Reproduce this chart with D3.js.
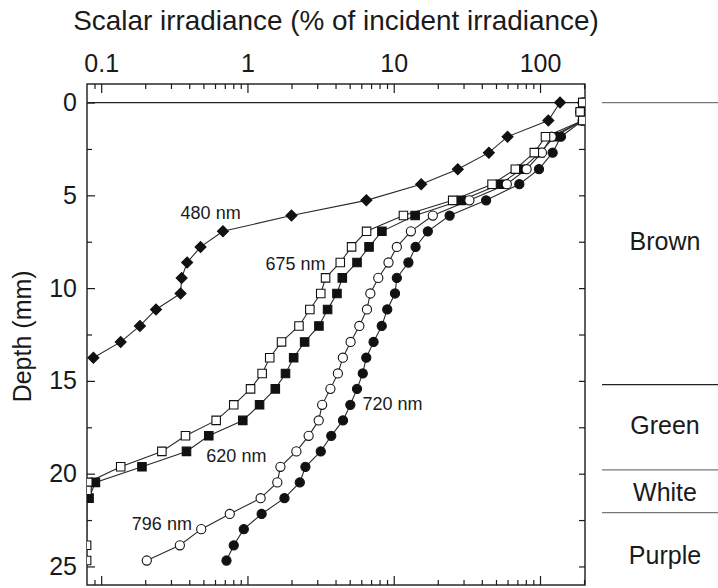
<!DOCTYPE html>
<html>
<head>
<meta charset="utf-8">
<script src="https://cdn.jsdelivr.net/npm/d3@7"></script>
<style>
  body { margin: 0; background: #fff; }
  svg { display: block; font-family: "Liberation Sans", Arial, sans-serif; }
  .axis text { font-size: 25px; fill: #1a1a1a; }
  .axis line { stroke: #1a1a1a; stroke-width: 1.2; }
  .lbl { font-size: 18px; fill: #1a1a1a; }
</style>
</head>
<body>
<svg id="chart" width="718" height="588"></svg>
<script>
// depth (mm), scalar irradiance (% of incident)
const s480 = [[0,137],[0.97,114],[1.84,60],[2.70,44.7],[3.59,27.4],[4.40,15.4],[5.27,6.5],[6.09,2.0],
  [6.94,0.68],[7.78,0.478],[8.62,0.387],[9.45,0.355],[10.29,0.349],[11.15,0.237],[12.04,0.184],
  [12.90,0.136],[13.75,0.0885]];
const s675 = [[0,196],[0.5,188],[0.97,196],[1.84,109],[2.70,91.4],[3.59,67.8],[4.40,47.0],[5.27,25.3],
  [6.09,11.65],[6.94,6.52],[7.78,5.15],[8.62,4.31],[9.45,3.42],[10.29,3.17],[11.15,2.67],[12.04,2.25],
  [12.90,1.71],[13.75,1.42],[14.60,1.26],[15.43,1.05],[16.29,0.806],[17.13,0.611],[17.96,0.377],
  [18.80,0.260],[19.63,0.136],[20.47,0.081],[20.9,0.080],[23.86,0.0795],[24.68,0.0795]];
const s620 = [[0,196],[0.97,196],[1.84,126],[2.70,100],[3.59,75],[4.40,53.3],[5.27,29],[6.09,14.0],
  [6.94,8.3],[7.78,6.78],[8.62,5.61],[9.45,4.45],[10.29,4.09],[11.15,3.53],[12.04,3.08],[12.90,2.46],
  [13.75,2.07],[14.60,1.82],[15.43,1.55],[16.29,1.21],[17.13,0.929],[17.96,0.544],[18.80,0.383],
  [19.63,0.190],[20.47,0.0913],[21.32,0.0826]];
const s796 = [[0,196],[0.5,188],[0.97,196],[1.84,120],[2.70,103],[3.59,81],[4.40,59.3],[5.27,32.9],
  [6.09,18.5],[6.94,13.1],[7.78,10.5],[8.62,9.21],[9.45,7.84],[10.29,6.92],[11.15,6.56],[12.04,5.82],
  [12.90,5.07],[13.75,4.49],[14.60,4.15],[15.43,3.69],[16.29,3.24],[17.13,3.07],[17.96,2.62],
  [18.80,2.16],[19.63,1.68],[20.47,1.60],[21.32,1.23],[22.17,0.757],[22.99,0.483],[23.86,0.345],
  [24.68,0.205]];
const s720 = [[0,196],[0.97,196],[1.84,139],[2.70,122],[3.59,98.4],[4.40,72.2],[5.27,42.8],[6.09,24.1],
  [6.94,17.1],[7.78,14.1],[8.62,12.6],[9.45,10.5],[10.29,10.2],[11.15,9.03],[12.04,8.28],[12.90,7.28],
  [13.75,6.49],[14.60,6.14],[15.43,5.61],[16.29,5.05],[17.13,4.50],[17.96,3.74],[18.80,3.17],
  [19.63,2.49],[20.47,2.28],[21.32,1.79],[22.17,1.25],[22.99,0.944],[23.86,0.806],[24.68,0.719]];

const xMajor = [0.1, 1, 10, 100];
const xMinor = [0.09, 0.2, 0.3, 0.4, 0.5, 0.6, 0.7, 0.8, 0.9, 2, 3, 4, 5, 6, 7, 8, 9,
  20, 30, 40, 50, 60, 70, 80, 90, 200];
const yMajor = [0, 5, 10, 15, 20, 25];
const yMinor = [2.5, 7.5, 12.5, 17.5, 22.5];

// mat layers on the right
const layerLines = [0, 15.2, 19.8, 22.1];
const layerNames = ["Brown", "Green", "White", "Purple"];
const layerLabelDepth = [7.5, 17.4, 21.0, 24.4];

// curve labels: text, irradiance and depth of the label centre
const curveLabels = [
  {text: "480 nm", v: 0.56, d: 5.95},
  {text: "675 nm", v: 2.13, d: 8.7},
  {text: "620 nm", v: 0.84, d: 19.04},
  {text: "796 nm", v: 0.26, d: 22.7},
  {text: "720 nm", v: 9.8, d: 16.24},
];

(() => {
  const svg = d3.select("svg#chart");
  const left = 87, right = 585, top = 84, bottom = 585;

  const x = d3.scaleLog().domain([0.08, 203]).range([left, right]);
  const y = d3.scaleLinear().domain([-1, 26]).range([top, bottom]);

  // title
  svg.append("text")
    .attr("x", 336).attr("y", 30)
    .attr("text-anchor", "middle")
    .style("font-size", "27.9px").style("fill", "#1a1a1a")
    .text("Scalar irradiance (% of incident irradiance)");

  svg.append("text")
    .attr("transform", `translate(31, ${y(12.6)}) rotate(-90)`)
    .attr("text-anchor", "middle")
    .style("font-size", "25px").style("fill", "#1a1a1a")
    .text("Depth (mm)");

  // axes, all ticks point inwards
  const addAxis = (gen, tx, ty) => svg.append("g")
    .attr("class", "axis")
    .attr("transform", `translate(${tx}, ${ty})`)
    .call(gen)
    .call(g => g.select(".domain").remove());

  addAxis(d3.axisTop(x).tickValues(xMajor).tickSize(-9).tickPadding(12)
    .tickFormat(d => d3.format("~g")(d)), 0, top);
  addAxis(d3.axisTop(x).tickValues(xMinor).tickSize(-5).tickFormat(""), 0, top);
  addAxis(d3.axisBottom(x).tickValues(xMajor).tickSize(-9).tickFormat(""), 0, bottom);
  addAxis(d3.axisBottom(x).tickValues(xMinor).tickSize(-5).tickFormat(""), 0, bottom);
  addAxis(d3.axisLeft(y).tickValues(yMajor).tickSize(-8).tickPadding(10), left, 0);
  addAxis(d3.axisLeft(y).tickValues(yMinor).tickSize(-5).tickFormat(""), left, 0);
  addAxis(d3.axisRight(y).tickValues(yMajor.concat(yMinor)).tickSize(-6).tickFormat(""), right, 0);

  // frame
  svg.append("rect")
    .attr("x", left).attr("y", top)
    .attr("width", right - left).attr("height", bottom - top)
    .attr("fill", "none").attr("stroke", "#1a1a1a").attr("stroke-width", 1.4);

  // surface line
  svg.append("line")
    .attr("x1", left).attr("x2", x(196))
    .attr("y1", y(0)).attr("y2", y(0))
    .attr("stroke", "#222").attr("stroke-width", 1.3);

  svg.append("clipPath").attr("id", "plotClip")
    .append("rect")
    .attr("x", left).attr("y", top)
    .attr("width", right - left).attr("height", bottom - top);

  const plot = svg.append("g").attr("clip-path", "url(#plotClip)");

  const line = d3.line()
    .x(d => x(d[1]))
    .y(d => y(d[0]));

  const series = [
    {data: s480, shape: "diamond", fill: "#111"},
    {data: s720, shape: "circle", fill: "#111"},
    {data: s620, shape: "square", fill: "#111"},
    {data: s796, shape: "circle", fill: "#fff"},
    {data: s675, shape: "square", fill: "#fff"},
  ];

  series.forEach(s => {
    plot.append("path")
      .datum(s.data)
      .attr("d", line)
      .attr("fill", "none")
      .attr("stroke", "#2a2a2a")
      .attr("stroke-width", 1.1);
  });

  const sym = {
    circle: d3.symbol().type(d3.symbolCircle).size(66),
    square: d3.symbol().type(d3.symbolSquare).size(72),
    diamond: d3.symbol().type(d3.symbolSquare).size(60),
  };

  series.forEach(s => {
    plot.append("g")
      .selectAll("path")
      .data(s.data)
      .enter()
      .append("path")
      .attr("d", sym[s.shape])
      .attr("transform", d => `translate(${x(d[1])}, ${y(d[0])})` + (s.shape === "diamond" ? " rotate(45)" : ""))
      .attr("fill", s.fill)
      .attr("stroke", "#111")
      .attr("stroke-width", 1.1);
  });

  // curve labels
  svg.selectAll(".lbl")
    .data(curveLabels)
    .enter()
    .append("text")
    .attr("class", "lbl")
    .attr("x", d => x(d.v))
    .attr("y", d => y(d.d))
    .attr("text-anchor", "middle")
    .attr("dy", "0.35em")
    .text(d => d.text);

  // layers
  svg.append("g")
    .selectAll("line")
    .data(layerLines)
    .enter()
    .append("line")
    .attr("x1", 602).attr("x2", 718)
    .attr("y1", d => y(d)).attr("y2", d => y(d))
    .attr("stroke", (d, i) => i === 1 ? "#222" : "#777")
    .attr("stroke-width", 1.2);

  svg.append("g")
    .selectAll("text")
    .data(layerNames)
    .enter()
    .append("text")
    .attr("x", 665)
    .attr("y", (d, i) => y(layerLabelDepth[i]))
    .attr("dy", "0.35em")
    .attr("text-anchor", "middle")
    .style("font-size", "25px").style("fill", "#1a1a1a")
    .text(d => d);
})();
</script>
</body>
</html>
